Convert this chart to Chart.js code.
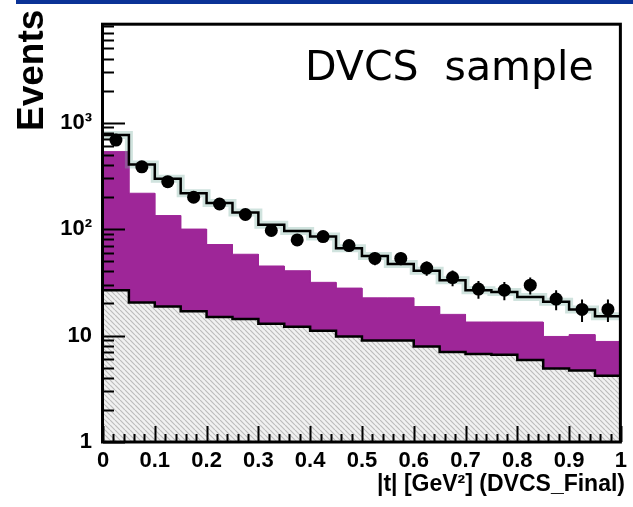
<!DOCTYPE html>
<html>
<head>
<meta charset="utf-8">
<script src="https://cdn.jsdelivr.net/npm/chart.js@4.4.1/dist/chart.umd.min.js"></script>
<style>
  html, body { margin: 0; padding: 0; background: #ffffff; }
  canvas { display: block; }
</style>
</head>
<body>
<canvas id="c" width="633" height="507"></canvas>
<script>
// |t| binning: 20 bins of 0.05 GeV^2
const binEdges = [0, 0.05, 0.1, 0.15, 0.2, 0.25, 0.3, 0.35, 0.4, 0.45, 0.5,
                  0.55, 0.6, 0.65, 0.7, 0.75, 0.8, 0.85, 0.9, 0.95, 1];
const binCenters = [0.025, 0.075, 0.125, 0.175, 0.225, 0.275, 0.325, 0.375, 0.425, 0.475,
                    0.525, 0.575, 0.625, 0.675, 0.725, 0.775, 0.825, 0.875, 0.925, 0.975];

// measured events with their uncertainties
const dataCounts = [686, 384, 279, 199, 172, 137, 97, 79, 85, 70,
                    53, 53, 43, 35, 27.3, 26.7, 29.7, 22, 17.6, 17.6];
const dataErrors = [26, 20, 17, 14, 13, 12, 10, 9, 9, 8.4,
                    7.3, 7.3, 6.6, 5.9, 5.2, 5.2, 5.4, 4.7, 4.2, 4.2];

// simulated sum, DVCS contribution (stacked) and background
const totalMC = [764, 405, 297, 217, 176, 143, 110, 96, 85, 66,
                 56, 47, 40.7, 33, 26.7, 25.6, 23, 20.8, 17.6, 15.2];
const dvcsStack = [534, 217, 134, 100, 71.6, 58, 45, 40.6, 31.6, 27.9,
                   22.6, 22.6, 18.7, 15.8, 13.4, 13.4, 13.4, 9.8, 10.2, 8.8];
const background = [26.7, 20.4, 18.7, 16.9, 14.9, 14.3, 12.9, 12.1, 11.1, 9.8,
                    9.0, 9.0, 7.9, 7.0, 6.7, 6.6, 5.9, 4.9, 4.7, 4.2];

// axis ticks
const xTickValues = [0, 0.1, 0.2, 0.3, 0.4, 0.5, 0.6, 0.7, 0.8, 0.9, 1];
const xTickLabels = ['0', '0.1', '0.2', '0.3', '0.4', '0.5', '0.6', '0.7', '0.8', '0.9', '1'];
const yTickValues = [1, 10, 100, 1000];
const yTickLabels = ['1', '10', '10\u00B2', '10\u00B3'];
const yMin = 1, yMax = 8400;

// histogram outline as step points over the bin edges:
// each bin's value is held from its low edge to its high edge
function steps(vals) {
  const pts = [{ x: binEdges[0], y: vals[0] }];
  for (let i = 1; i < binEdges.length; i++) {
    pts.push({ x: binEdges[i], y: vals[i - 1] });
    if (i < vals.length) pts.push({ x: binEdges[i], y: vals[i] });
  }
  return pts;
}

// diagonal hatch fill for the background histogram
function hatchPattern() {
  const s = 5;
  const c = document.createElement('canvas');
  c.width = s; c.height = s;
  const g = c.getContext('2d');
  g.fillStyle = '#f1f1f1';
  g.fillRect(0, 0, s, s);
  g.strokeStyle = '#bcbcbc';
  g.lineWidth = 1.2;
  g.beginPath();
  for (const k of [-s, 0, s]) { g.moveTo(k, 0); g.lineTo(k + s, s); }
  g.stroke();
  return g.createPattern(c, 'repeat');
}

const frameAndDecor = {
  id: 'frameAndDecor',
  beforeDraw(chart) {
    const ctx = chart.ctx;
    ctx.save();
    ctx.fillStyle = '#ffffff';
    ctx.fillRect(0, 0, chart.width, chart.height);
    ctx.fillStyle = '#0a3296';
    ctx.fillRect(16, 0, chart.width - 16, 4);
    ctx.restore();
  },
  afterDatasetsDraw(chart) {
    const ctx = chart.ctx;
    const a = chart.chartArea;
    const xs = chart.scales.x, ys = chart.scales.y;
    ctx.save();

    // vertical error bars on the data points
    ctx.strokeStyle = '#000';
    ctx.lineWidth = 2;
    ctx.beginPath();
    binCenters.forEach((x, i) => {
      const px = xs.getPixelForValue(x);
      const lo = Math.max(dataCounts[i] - dataErrors[i], yMin);
      ctx.moveTo(px, ys.getPixelForValue(lo));
      ctx.lineTo(px, ys.getPixelForValue(dataCounts[i] + dataErrors[i]));
    });
    ctx.stroke();

    // inward tick marks on the x axis: 0.02 minor, 0.1 major
    ctx.lineWidth = 2;
    ctx.beginPath();
    for (let k = 0; k <= 50; k++) {
      const px = Math.round(xs.getPixelForValue(k / 50)) + 0.5;
      const len = (k % 5 === 0) ? 16 : 8;
      ctx.moveTo(px, a.bottom);
      ctx.lineTo(px, a.bottom - len);
    }
    // inward tick marks on the log y axis
    for (let d = 1; d <= 1000; d *= 10) {
      for (let m = 1; m <= 9; m++) {
        const v = d * m;
        if (v > yMax) break;
        const py = Math.round(ys.getPixelForValue(v)) + 0.5;
        const len = (m === 1) ? 22 : 11;
        ctx.moveTo(a.left, py);
        ctx.lineTo(a.left + len, py);
      }
    }
    ctx.stroke();

    // frame
    ctx.lineWidth = 3;
    ctx.strokeRect(a.left - 0.5, a.top, a.right - a.left, a.bottom - a.top);
    ctx.restore();
  },
  afterDraw(chart) {
    const ctx = chart.ctx;
    ctx.save();
    ctx.fillStyle = '#000';

    // y axis title
    ctx.font = 'bold 37px "Liberation Sans", Arial, sans-serif';
    ctx.textAlign = 'left';
    ctx.textBaseline = 'alphabetic';
    ctx.translate(43, 131);
    ctx.rotate(-Math.PI / 2);
    ctx.fillText('Events', 0, 0);
    ctx.setTransform(1, 0, 0, 1, 0, 0);

    // x axis title
    ctx.font = 'bold 23px "Liberation Sans", Arial, sans-serif';
    ctx.textAlign = 'right';
    ctx.fillText('|t| [GeV\u00B2] (DVCS_Final)', 625, 491);

    // sample label
    ctx.font = '41px "DejaVu Sans", sans-serif';
    ctx.textAlign = 'left';
    ctx.fillText('DVCS  sample', 305, 80);
    ctx.restore();
  }
};

new Chart(document.getElementById('c'), {
  type: 'line',
  data: {
    datasets: [
      {
        label: 'Data',
        data: binCenters.map((x, i) => ({ x: x, y: dataCounts[i] })),
        showLine: false,
        pointRadius: 6.5,
        pointBackgroundColor: '#000',
        pointBorderColor: '#000',
        pointBorderWidth: 0,
        order: 1
      },
      {
        label: 'Total',
        data: steps(totalMC),
        borderColor: '#000',
        borderWidth: 2.5,
        pointRadius: 0,
        tension: 0,
        fill: false,
        order: 2
      },
      {
        label: 'Total uncertainty',
        data: steps(totalMC),
        borderColor: 'rgba(120,175,160,0.35)',
        borderWidth: 8,
        pointRadius: 0,
        tension: 0,
        fill: false,
        order: 3
      },
      {
        label: 'Background',
        data: steps(background),
        borderColor: '#000',
        borderWidth: 2.5,
        backgroundColor: hatchPattern(),
        fill: 'start',
        pointRadius: 0,
        tension: 0,
        order: 4
      },
      {
        label: 'DVCS',
        data: steps(dvcsStack),
        borderColor: 'rgb(158,38,152)',
        borderWidth: 1,
        backgroundColor: 'rgb(158,38,152)',
        fill: 'start',
        pointRadius: 0,
        tension: 0,
        order: 5
      }
    ]
  },
  options: {
    responsive: false,
    animation: false,
    devicePixelRatio: 1,
    layout: { padding: { left: 0, top: 14, right: 7, bottom: 0 } },
    plugins: { legend: { display: false }, tooltip: { enabled: false } },
    scales: {
      x: {
        type: 'linear',
        min: 0, max: 1,
        afterBuildTicks: s => { s.ticks = xTickValues.map(v => ({ value: v })); },
        afterFit: s => { s.height = 65; },
        ticks: {
          autoSkip: false, maxRotation: 0, padding: 6,
          color: '#000',
          font: { family: '"Liberation Sans", Arial, sans-serif', size: 22, weight: 'bold' },
          callback: (v, i) => xTickLabels[i]
        },
        grid: { display: false, drawTicks: false },
        border: { display: false }
      },
      y: {
        type: 'logarithmic',
        min: yMin, max: yMax,
        afterBuildTicks: s => { s.ticks = yTickValues.map(v => ({ value: v })); },
        afterFit: s => { s.width = 103; },
        ticks: {
          autoSkip: false, padding: 11,
          color: '#000',
          font: { family: '"Liberation Sans", Arial, sans-serif', size: 22, weight: 'bold' },
          callback: (v, i) => yTickLabels[i]
        },
        grid: { display: false, drawTicks: false },
        border: { display: false }
      }
    }
  },
  plugins: [frameAndDecor]
});
</script>
</body>
</html>
